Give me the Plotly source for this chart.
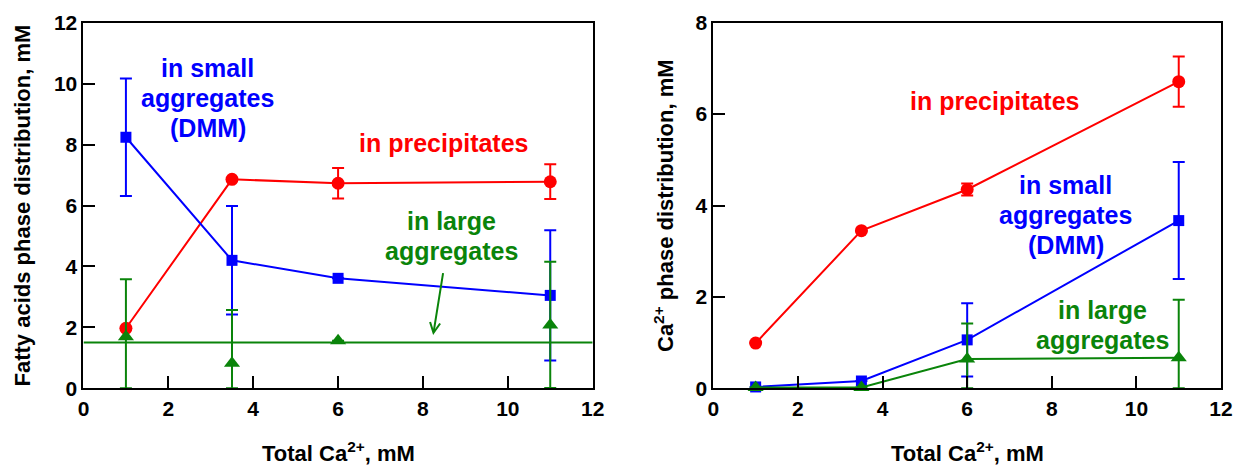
import numpy as np
import plotly.graph_objects as go

# Total Ca2+ added (mM)
ca_total = [1, 3.5, 6, 11]

# Fatty acids phase distribution (mM)
fa_small = [8.24, 4.20, 3.61, 3.05]
fa_small_err = [1.93, 1.78, 0.0, 2.14]
fa_precip = [1.97, 6.86, 6.73, 6.78]
fa_precip_err = [0.0, 0.0, 0.50, 0.57]
fa_large = [1.69, 0.82, 1.56, 2.08]
fa_large_err = [1.89, 1.75, 0.0, 2.07]
fa_large_level = 1.5

# Ca2+ phase distribution (mM)
ca_precip = [0.99, 3.45, 4.35, 6.71]
ca_precip_err = [0.0, 0.0, 0.13, 0.55]
ca_small = [0.03, 0.16, 1.06, 3.67]
ca_small_err = [0.0, 0.0, 0.80, 1.28]
ca_large = [0.02, 0.02, 0.64, 0.67]
ca_large_err = [0.0, 0.0, 0.78, 1.27]

x_ticks = [0, 2, 4, 6, 8, 10, 12]

RED = "#ff0000"
BLUE = "#0000ff"
GREEN = "#0a840a"
FONT = "Liberation Sans, Arial, sans-serif"


def err(values, errors, color):
    # error bars stop at the zero line
    minus = np.minimum(np.array(errors), np.array(values))
    return dict(type="data", symmetric=False, array=errors, arrayminus=minus,
                color=color, thickness=2, width=6)


def series(y, e, color, symbol, size, xa, ya, mode="lines+markers"):
    return go.Scatter(
        x=ca_total, y=y, mode=mode, xaxis=xa, yaxis=ya,
        line=dict(color=color, width=2),
        marker=dict(color=color, symbol=symbol, size=size, line=dict(width=0)),
        error_y=err(y, e, color), cliponaxis=False, showlegend=False,
    )


fig = go.Figure()
# fatty acids panel
fig.add_trace(series(fa_precip, fa_precip_err, RED, "circle", 13, "x", "y"))
fig.add_trace(series(fa_small, fa_small_err, BLUE, "square", 11, "x", "y"))
fig.add_trace(series(fa_large, fa_large_err, GREEN, "triangle-up", 14, "x", "y", mode="markers"))
# Ca2+ panel
fig.add_trace(series(ca_precip, ca_precip_err, RED, "circle", 13, "x2", "y2"))
fig.add_trace(series(ca_small, ca_small_err, BLUE, "square", 11, "x2", "y2"))
fig.add_trace(series(ca_large, ca_large_err, GREEN, "triangle-up", 14, "x2", "y2"))

fig.add_shape(type="line", xref="x", yref="y", x0=0, x1=12,
              y0=fa_large_level, y1=fa_large_level,
              line=dict(color=GREEN, width=2))

axis_common = dict(
    showline=True, linecolor="black", linewidth=2, mirror=True,
    ticks="inside", ticklen=12, tickwidth=2, tickcolor="black",
    showgrid=False, zeroline=False,
    tickfont=dict(family=FONT, size=21, color="black", weight="bold"),
)

fig.update_layout(
    width=1235, height=466,
    margin=dict(l=0, r=0, t=0, b=0, autoexpand=False),
    paper_bgcolor="white", plot_bgcolor="white",
    xaxis=dict(domain=[0.0676, 0.4799], range=[0, 12], tickvals=x_ticks,
               anchor="y", **axis_common),
    yaxis=dict(domain=[0.1667, 0.9513], range=[0, 12], tickvals=[0, 2, 4, 6, 8, 10, 12],
               anchor="x", **axis_common),
    xaxis2=dict(domain=[0.5776, 0.9887], range=[0, 12], tickvals=x_ticks,
                anchor="y2", **axis_common),
    yaxis2=dict(domain=[0.1667, 0.9513], range=[0, 8], tickvals=[0, 2, 4, 6, 8],
                anchor="x2", **axis_common),
)

LINE_GAP = 30  # px between stacked label lines


def label(lines, x, y, color, xref, yref, size=25):
    # stack each line around the anchor point with a fixed pixel gap
    n = len(lines)
    for i, line in enumerate(lines):
        fig.add_annotation(text=f"<b>{line}</b>", x=x, y=y, xref=xref, yref=yref,
                           showarrow=False, yshift=((n - 1) / 2 - i) * LINE_GAP,
                           font=dict(family=FONT, size=size, color=color),
                           xanchor="center", yanchor="middle", align="center")


label(["in small", "aggregates", "(DMM)"], 2.93, 9.52, BLUE, "x", "y")
label(["in precipitates"], 8.49, 8.04, RED, "x", "y")
label(["in large", "aggregates"], 8.68, 5.0, GREEN, "x", "y")

label(["in precipitates"], 6.65, 6.28, RED, "x2", "y2")
label(["in small", "aggregates", "(DMM)"], 8.33, 3.80, BLUE, "x2", "y2")
label(["in large", "aggregates"], 9.2, 1.39, GREEN, "x2", "y2")

# arrow pointing at the large-aggregate level
fig.add_annotation(x=8.24, y=1.75, ax=8.48, ay=3.83, xref="x", yref="y",
                   axref="x", ayref="y", showarrow=True, arrowhead=5,
                   arrowsize=1, arrowwidth=2, arrowcolor=GREEN, text="")

# axis titles
title_font = dict(family=FONT, size=22, color="black")
fig.add_annotation(text="<b>Fatty acids phase distribution, mM</b>", textangle=-90,
                   x=22 / 1235, y=1 - 205.5 / 466, xref="paper", yref="paper",
                   showarrow=False, font=title_font, xanchor="center", yanchor="middle")
fig.add_annotation(text="<b>Ca<sup>2+</sup> phase distribution, mM</b>", textangle=-90,
                   x=664 / 1235, y=1 - 206 / 466, xref="paper", yref="paper",
                   showarrow=False, font=title_font, xanchor="center", yanchor="middle")
fig.add_annotation(text="<b>Total Ca<sup>2+</sup>, mM</b>",
                   x=338 / 1235, y=1 - 452 / 466, xref="paper", yref="paper",
                   showarrow=False, font=title_font, xanchor="center", yanchor="middle")
fig.add_annotation(text="<b>Total Ca<sup>2+</sup>, mM</b>",
                   x=967 / 1235, y=1 - 452 / 466, xref="paper", yref="paper",
                   showarrow=False, font=title_font, xanchor="center", yanchor="middle")

fig.write_html("out.html")
